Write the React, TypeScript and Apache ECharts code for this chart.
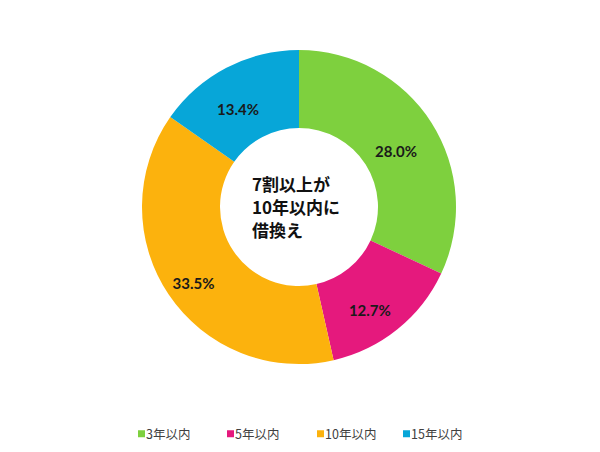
import React, { useEffect, useRef } from "react";
import * as echarts from "echarts";

// 借換えまでの期間（%）
const categories = ["3年以内", "5年以内", "10年以内", "15年以内"];
const shares = [28.0, 12.7, 33.5, 13.4];
const sliceColors = ["#7ED03E", "#E5197D", "#FCB20D", "#07A6D8"];
const centerLines = ["7割以上が", "10年以内に", "借換え"];
const legendLefts = [133, 222, 312, 398];

const App: React.FC = () => {
    const chartRef = useRef<HTMLDivElement>(null);

    useEffect(() => {
        if (!chartRef.current) return;
        const chart = echarts.init(chartRef.current, undefined, { renderer: "svg" });
        chart.setOption({
            animation: false,
            backgroundColor: "#ffffff",
            color: sliceColors,
            // one legend per item so the uneven Excel spacing can be kept
            legend: categories.map((name, i) => ({
                bottom: 7,
                left: legendLefts[i],
                itemWidth: 7,
                itemHeight: 7,
                icon: "rect",
                data: [name],
                selectedMode: false,
                textStyle: {
                    color: "#404040",
                    fontSize: 12.5,
                    fontFamily: "Noto Sans CJK JP",
                    padding: [0, 0, 0, -4]
                }
            })),
            // centre caption, one text per line
            graphic: centerLines.map((line, i) => ({
                type: "text",
                left: 252,
                top: 175 + i * 23,
                style: {
                    text: line,
                    font: "bold 17px 'Noto Sans CJK JP'",
                    fill: "#111111",
                    align: "left"
                }
            })),
            series: [
                {
                    type: "pie",
                    center: [299, 207],
                    radius: [79, 157],
                    startAngle: 90,
                    clockwise: true,
                    avoidLabelOverlap: false,
                    label: {
                        show: true,
                        position: "inside",
                        formatter: (p: any) => `${Number(p.value).toFixed(1)}%`,
                        color: "#1a1a1a",
                        fontSize: 15,
                        fontWeight: "bold",
                        fontFamily: "Lato",
                        offset: [-5, 9]
                    },
                    labelLine: { show: false },
                    emphasis: { disabled: true },
                    data: categories.map((name, i) => ({ name, value: shares[i] }))
                }
            ]
        });
        return () => {
            chart.dispose();
        };
    }, []);

    return (
        <div style={{ position: "absolute", left: 0, top: 0, width: 600, height: 452 }}>
            <div ref={chartRef} style={{ width: "100%", height: "100%" }} />
        </div>
    );
};

export default App;
